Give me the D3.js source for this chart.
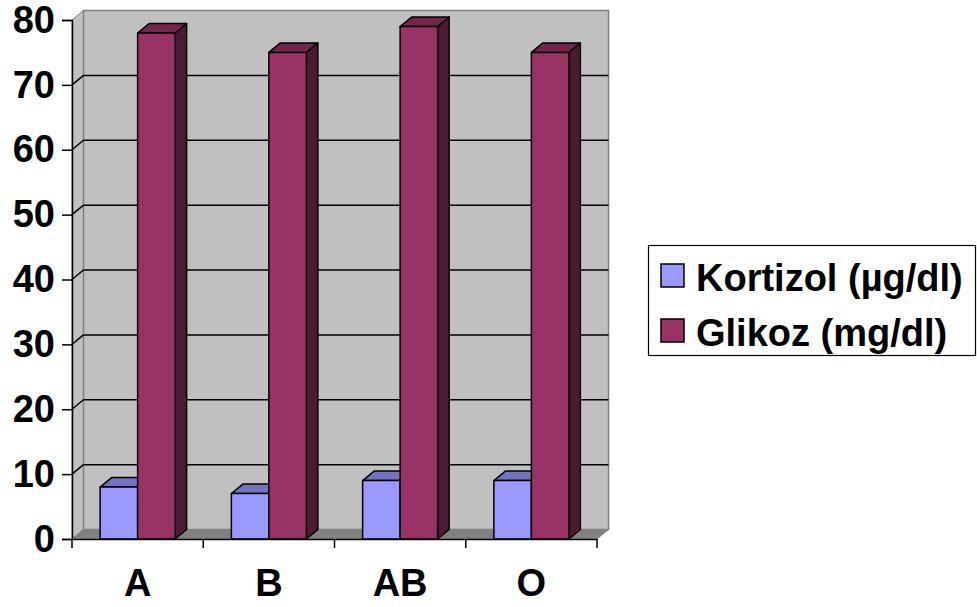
<!DOCTYPE html>
<html>
<head>
<meta charset="utf-8">
<script src="https://cdn.jsdelivr.net/npm/d3@7"></script>
<style>
  html, body { margin: 0; padding: 0; background: #ffffff; }
  svg { display: block; }
  text { font-family: "Liberation Sans", Arial, sans-serif; font-weight: bold; fill: #000; }
</style>
</head>
<body>
<svg id="chart" width="977" height="607"></svg>
<script>
// Blood group categories and the two measured series
const categories = ["A", "B", "AB", "O"];
const seriesNames = ["Kortizol (µg/dl)", "Glikoz (mg/dl)"];
const kortizol = [8, 7, 9, 9];
const glikoz = [78, 75, 79, 75];
const yTicks = [0, 10, 20, 30, 40, 50, 60, 70, 80];

const seriesValues = [kortizol, glikoz];
const frontColors = ["#9999FF", "#993366"];
const topColors = ["#7373BF", "#73264D"];
const sideColors = ["#4D4D80", "#4D1A33"];

const svg = d3.select("#chart");

// plot frame: front plane and the 3D depth offset
const plotL = 72, plotR = 597, plotB = 539, plotT = 20;
const dx = 11.5, dy = -9.5;

const y = d3.scaleLinear().domain([0, 80]).range([plotB, plotT]);
const x0 = d3.scaleBand().domain(categories).range([plotL, plotR]).padding(0);
const groupW = 75;
const x1 = d3.scaleBand().domain(seriesNames).range([0, groupW]).padding(0);
const groupOff = (x0.bandwidth() - groupW) / 2;

const pts = a => a.map(p => p.join(",")).join(" ");

// walls and floor
const g = svg.append("g");
g.append("polygon") // side wall
  .attr("points", pts([[plotL, y(80)], [plotL + dx, y(80) + dy], [plotL + dx, y(0) + dy], [plotL, y(0)]]))
  .attr("fill", "#C0C0C0").attr("stroke", "#808080").attr("stroke-width", 1);
g.append("rect") // back wall
  .attr("x", plotL + dx).attr("y", y(80) + dy)
  .attr("width", plotR - plotL).attr("height", y(0) - y(80))
  .attr("fill", "#C0C0C0").attr("stroke", "#808080").attr("stroke-width", 1.5);
g.append("polygon") // floor
  .attr("points", pts([[plotL, y(0)], [plotL + dx, y(0) + dy], [plotR + dx, y(0) + dy], [plotR, y(0)]]))
  .attr("fill", "#808080").attr("stroke", "#808080").attr("stroke-width", 1);

// gridlines on back and side walls
yTicks.filter(t => t > 0 && t < 80).forEach(t => {
  g.append("line")
    .attr("x1", plotL + dx).attr("x2", plotR + dx)
    .attr("y1", y(t) + dy).attr("y2", y(t) + dy)
    .attr("stroke", "#000").attr("stroke-width", 1.5);
  g.append("line")
    .attr("x1", plotL).attr("x2", plotL + dx)
    .attr("y1", y(t)).attr("y2", y(t) + dy)
    .attr("stroke", "#000").attr("stroke-width", 1.5);
});

// y axis
const yAxis = d3.axisLeft(y).tickValues(yTicks).tickSize(10).tickPadding(7);
const ya = svg.append("g").attr("transform", `translate(${plotL},0)`).call(yAxis);
ya.select(".domain").attr("stroke", "#000").attr("stroke-width", 1.5);
ya.selectAll(".tick line").attr("stroke", "#000").attr("stroke-width", 1.5);
ya.selectAll(".tick text")
  .style("font-family", "'Liberation Sans', Arial, sans-serif")
  .style("font-weight", "bold").style("font-size", "38px").attr("fill", "#000");

// bars, drawn left to right so each box covers the previous one's side
const bars = svg.append("g");
categories.forEach((c, i) => {
  seriesNames.forEach((s, k) => {
    const v = seriesValues[k][i];
    const xL = x0(c) + groupOff + x1(s);
    const xR = xL + x1.bandwidth();
    const yT = y(v), yB = y(0);
    const b = bars.append("g").attr("stroke", "#000").attr("stroke-width", 1.5).attr("stroke-linejoin", "round");
    b.append("polygon") // side face
      .attr("points", pts([[xR, yB], [xR + dx, yB + dy], [xR + dx, yT + dy], [xR, yT]]))
      .attr("fill", sideColors[k]);
    b.append("polygon") // top face
      .attr("points", pts([[xL, yT], [xL + dx, yT + dy], [xR + dx, yT + dy], [xR, yT]]))
      .attr("fill", topColors[k]);
    b.append("rect") // front face
      .attr("x", xL).attr("y", yT).attr("width", xR - xL).attr("height", yB - yT)
      .attr("fill", frontColors[k]);
  });
});

// x axis
const xAxis = d3.axisBottom(x0).tickSize(0).tickPadding(0);
const xa = svg.append("g").attr("transform", `translate(0,${plotB})`).call(xAxis);
xa.select(".domain").attr("stroke", "#000").attr("stroke-width", 1.5);
xa.selectAll(".tick text").remove();
const bounds = categories.map(c => x0(c)).concat([plotR]);
bounds.forEach(bx => {
  xa.append("line").attr("x1", bx).attr("x2", bx).attr("y1", 0).attr("y2", 9)
    .attr("stroke", "#000").attr("stroke-width", 1.5);
});
svg.append("g").selectAll("text").data(categories).join("text")
  .attr("x", d => x0(d) + x0.bandwidth() / 2)
  .attr("y", 596)
  .attr("text-anchor", "middle")
  .style("font-size", "38px")
  .text(d => d);

// legend
const lg = svg.append("g");
lg.append("rect").attr("x", 648.5).attr("y", 245.5).attr("width", 327).attr("height", 110)
  .attr("fill", "#fff").attr("stroke", "#000").attr("stroke-width", 1.2);
seriesNames.forEach((s, k) => {
  const yy = 264 + k * 55;
  lg.append("rect").attr("x", 661).attr("y", yy).attr("width", 23).attr("height", 23)
    .attr("fill", frontColors[k]).attr("stroke", "#000").attr("stroke-width", 1.5);
  lg.append("text").attr("x", 696).attr("y", yy + 27)
    .style("font-size", "38px").text(s);
});
</script>
</body>
</html>
